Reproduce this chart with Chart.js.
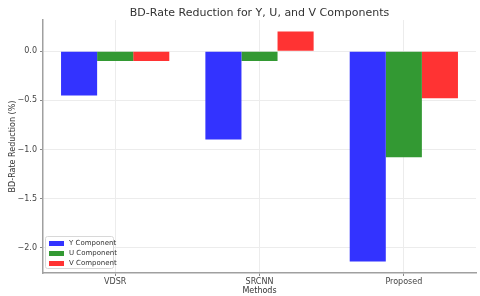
<!DOCTYPE html>
<html>
<head>
<meta charset="utf-8">
<script src="https://cdn.jsdelivr.net/npm/chart.js@4.4.0/dist/chart.umd.min.js"></script>
<style>
  html, body { margin: 0; padding: 0; background: #fff; }
  #wrap { width: 480px; height: 296px; }
</style>
</head>
<body>
<div id="wrap"><canvas id="myChart" width="480" height="296"></canvas></div>
<script>
// chart values
const methods = ["VDSR", "SRCNN", "Proposed"];
const yComponent = [-0.45, -0.9, -2.14];
const uComponent = [-0.1, -0.1, -1.08];
const vComponent = [-0.1, 0.2, -0.48];
const seriesLabels = ["Y Component", "U Component", "V Component"];
const seriesColors = ["rgba(51,51,255,1)", "rgba(51,153,51,1)", "rgba(255,51,51,1)"];
const chartTitle = "BD-Rate Reduction for Y, U, and V Components";

const tickColor = "#444";
const fontFam = "'DejaVu Sans', sans-serif";

// title centred over the plot area (like matplotlib)
const plotTitle = {
  id: "plotTitle",
  afterDraw(chart) {
    const c = chart.ctx;
    const area = chart.chartArea;
    c.save();
    c.font = "11px " + fontFam;
    c.fillStyle = "#333";
    c.textAlign = "center";
    c.textBaseline = "middle";
    c.fillText(chartTitle, (area.left + area.right) / 2, 13);
    c.restore();
  }
};

// legend drawn inside the plot, lower left
const innerLegend = {
  id: "innerLegend",
  afterDraw(chart) {
    const c = chart.ctx;
    const area = chart.chartArea;
    const x0 = area.left + 2, y0 = area.bottom - 37;
    const w = 68, h = 32;
    c.save();
    c.fillStyle = "rgba(255,255,255,0.85)";
    c.strokeStyle = "#d8d8d8";
    c.lineWidth = 1;
    c.beginPath();
    c.roundRect(x0 + 0.5, y0 + 0.5, w, h, 2);
    c.fill();
    c.stroke();
    c.font = "7px " + fontFam;
    c.textBaseline = "middle";
    chart.data.datasets.forEach((ds, i) => {
      const yy = y0 + 7 + i * 10;
      c.fillStyle = ds.backgroundColor;
      c.fillRect(x0 + 4, yy - 2, 15, 5);
      c.fillStyle = "#333";
      c.fillText(ds.label, x0 + 24, yy + 0.5);
    });
    c.restore();
  }
};

const data = {
  labels: methods,
  datasets: [
    { label: seriesLabels[0], data: yComponent, backgroundColor: seriesColors[0] },
    { label: seriesLabels[1], data: uComponent, backgroundColor: seriesColors[1] },
    { label: seriesLabels[2], data: vComponent, backgroundColor: seriesColors[2] }
  ]
};

const config = {
  type: "bar",
  data: data,
  options: {
    responsive: false,
    animation: false,
    layout: { padding: { left: 0, right: 4, top: 20, bottom: 0 } },
    datasets: { bar: { categoryPercentage: 0.75, barPercentage: 1.0 } },
    plugins: {
      legend: { display: false },
      tooltip: { enabled: false },
      title: { display: false }
    },
    scales: {
      x: {
        grid: { offset: false, color: "#ececec", tickColor: "#888", tickLength: 3, drawTicks: true },
        border: { color: "#a0a0a0", width: 1.5 },
        ticks: { color: tickColor, font: { family: fontFam, size: 8 }, padding: 1 },
        title: { display: true, text: "Methods", color: "#333", font: { family: fontFam, size: 8 }, padding: { top: 0, bottom: 0 } },
        afterFit(scale) { scale.height = 23; }
      },
      y: {
        min: -2.257,
        max: 0.317,
        grid: { color: "#ececec", tickColor: "#888", tickLength: 3 },
        border: { color: "#a0a0a0", width: 1.5 },
        ticks: {
          stepSize: 0.5,
          color: tickColor,
          font: { family: fontFam, size: 8 },
          padding: 3,
          callback: (v) => {
            const r = Math.round(v * 10) / 10;
            if (Math.abs(r - v) > 1e-6) return null;
            return r.toFixed(1).replace("-", "\u2212");
          }
        },
        afterBuildTicks(scale) {
          scale.ticks = [-2, -1.5, -1, -0.5, 0].map(v => ({ value: v }));
        },
        title: { display: true, text: "BD-Rate Reduction (%)", color: "#333", font: { family: fontFam, size: 8 }, padding: { top: 8, bottom: 0 } },
        afterFit(scale) { scale.width = 43; }
      }
    }
  },
  plugins: [plotTitle, innerLegend]
};

const ctx = document.getElementById("myChart");
const myChart = new Chart(ctx, config);
</script>
</body>
</html>
